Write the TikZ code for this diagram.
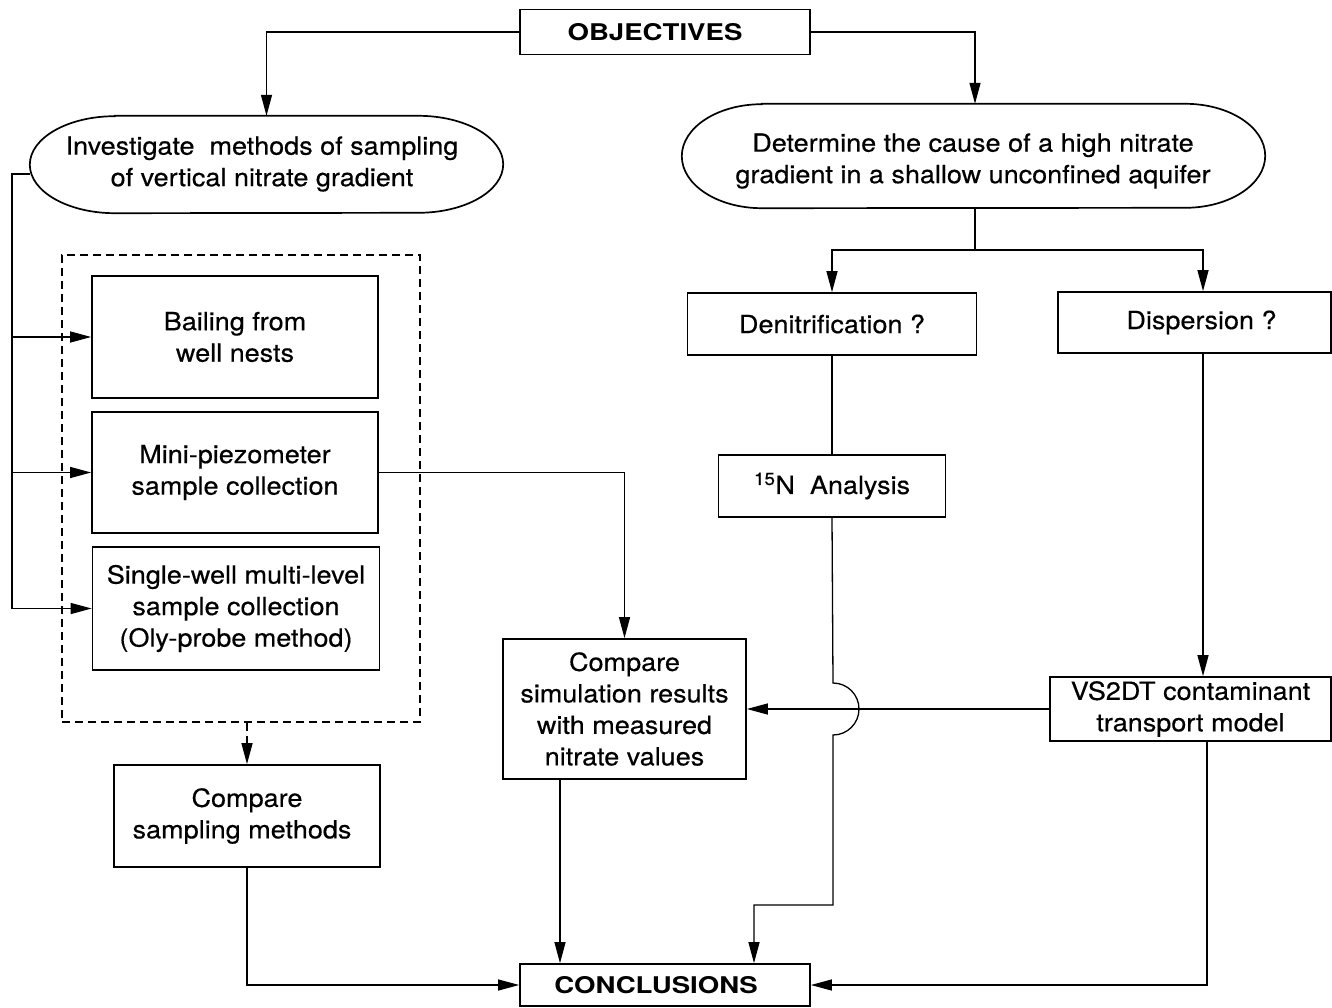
\documentclass[tikz,border=0pt]{standalone}
\usepackage{fontspec}
\setmainfont[FakeStretch=1.08,FakeBold=0.4]{TeX Gyre Heros}
\newfontfamily\titlefont[FakeStretch=1.2]{TeX Gyre Heros}
\usetikzlibrary{arrows.meta,calc}
\newcommand\myoval[3]{%
  \draw[line width=1.7pt] ($(#1.north west)+(#2,0)$) -- ($(#1.north east)+(-#2,0)$)
   arc[start angle=90, end angle=-90, x radius=#2pt, y radius=#3pt]
   -- ($(#1.south west)+(#2,0)$)
   arc[start angle=270, end angle=90, x radius=#2pt, y radius=#3pt] -- cycle;}
\begin{document}
\begin{tikzpicture}[x=1pt,y=-1pt,
  every node/.style={font=\fontsize{25}{31.5}\selectfont},
  box/.style={draw, line width=1.7pt, inner sep=0pt, align=center},
  oval/.style={rectangle, inner sep=0pt},
  lbl/.style={inner sep=0pt, align=center},
  ttl/.style={box, font=\titlefont\bfseries\fontsize{23}{28}\selectfont},
  conn/.style={line width=1.3pt},
  arr/.style={conn, -{Triangle[length=21pt,width=11pt]}}
]
\useasboundingbox (0,0) rectangle (1332,1008);

% nodes
\node[ttl, minimum width=290, minimum height=45] (obj) at (665,32) {OBJECTIVES\hspace*{20pt}};
\node[oval, minimum width=473, minimum height=97] (lel) at (266.5,164.5) {};
\myoval{lel}{85}{48.5}
\node[lbl] (leltxt) at (262,164) {Investigate~ methods of sampling\\of vertical nitrate gradient};
\node[oval, minimum width=583, minimum height=104] (rel) at (973.5,156) {};
\myoval{rel}{80}{52}
\node[lbl] (reltxt) at (973,161) {Determine the cause of a high nitrate\\gradient in a shallow unconfined aquifer};
\node[box, minimum width=289, minimum height=62] (den) at (832,324) {Denitrification ?};
\node[box, minimum width=273, minimum height=61] (disp) at (1194.5,322.5) {\hspace*{14pt}Dispersion ?};
\node[box, minimum width=227, minimum height=62] (n15) at (832,486) {\textsuperscript{15}N~ Analysis};
\node[box, minimum width=243, minimum height=140] (cmpsim) at (624.5,709)
  {Compare\\simulation results\\with measured\\nitrate values};
\node[box, minimum width=281, minimum height=64] (vs) at (1190.5,709)
  {VS2DT contaminant\\transport model};

\node[draw, dash pattern=on 8pt off 5pt, line width=1.6pt, minimum width=358, minimum height=467, inner sep=0pt] (grp) at (241,488.5) {};
\node[box, minimum width=286, minimum height=122] (bail) at (235,337) {Bailing from\\well nests};
\node[box, minimum width=286, minimum height=121] (mini) at (235,472.5) {Mini-piezometer\\sample collection};
\node[box, minimum width=287, minimum height=123] (single) at (236,608.5)
  {Single-well multi-level\\sample collection\\(Oly-probe method)};
\node[box, minimum width=266, minimum height=102] (cmpsamp) at (247,816) {Compare\\sampling methods\hspace*{10pt}};
\node[ttl, minimum width=290, minimum height=42] (concl) at (665,985) {CONCLUSIONS\hspace*{18pt}};

% coordinates
\coordinate (split) at (975,250);
\coordinate (l1) at (12,174);
\coordinate (dx) at (1203,0);
\coordinate (vx) at (1207,0);
\coordinate (sx) at (560,0);
\coordinate (hc) at (833,709);
\coordinate (e1) at (833,905);
\coordinate (e2) at (754,905);

% connectors
\draw[arr] (obj.west) -| (lel.north);
\draw[arr] (obj.east) -| (split |- rel.north);
\draw[conn] (split |- rel.south) -- (split);
\draw[arr] (split) -| (den.north);
\draw[arr] (split) -| (disp.north -| dx);

\draw[arr] ([yshift=-9.5pt]lel.west) -- (l1) -- (l1 |- single.west) -- (single.west);
\draw[arr] (l1 |- bail.west) -- (bail.west);
\draw[arr] (l1 |- mini.west) -- (mini.west);

\draw[arr, dash pattern=on 8pt off 5pt] (cmpsamp.north |- grp.south) -- (cmpsamp.north);
\draw[arr] (mini.east) -| (cmpsim.north);

\draw[conn] (den.south) -- (n15.north);
\draw[arr] (n15.south) -- ([yshift=26pt]hc) arc[start angle=90, end angle=-90, radius=26pt]
  -- (e1) -- (e2) -- (e2 |- concl.north);

\draw[arr] (disp.south -| dx) -- (vs.north -| dx);
\draw[arr] (vs.west) -- (cmpsim.east);
\draw[arr] (vs.south -| vx) |- (concl.east);
\draw[arr] (cmpsim.south -| sx) -- (concl.north -| sx);
\draw[arr] (cmpsamp.south) |- (concl.west);
\end{tikzpicture}
\end{document}
